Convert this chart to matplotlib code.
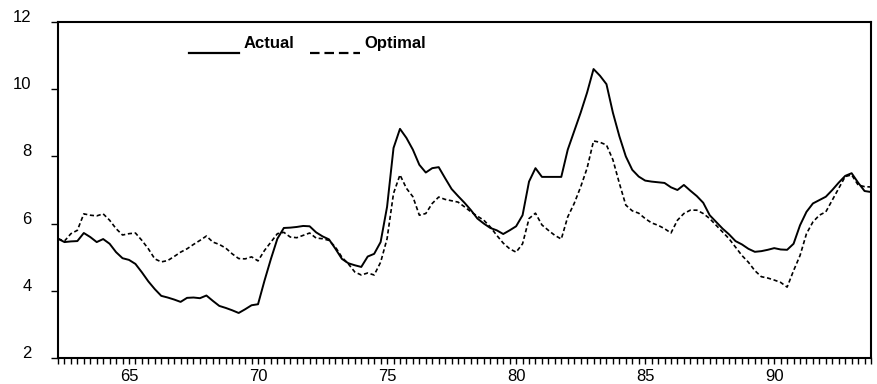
import numpy as np
import matplotlib.pyplot as plt
from matplotlib.lines import Line2D
from matplotlib.legend_handler import HandlerLine2D

plt.rcParams['font.family'] = ['Liberation Sans', 'DejaVu Sans']

# Quartalswerte 1962Q2 .. 1993Q4
start_year = 62.25
actual = [
    5.55, 5.45, 5.47,
    5.48, 5.72, 5.60, 5.45,
    5.54, 5.40, 5.15, 4.97,
    4.92, 4.80, 4.55, 4.28,
    4.05, 3.85, 3.80, 3.74,
    3.67, 3.79, 3.80, 3.78,
    3.86, 3.70, 3.55, 3.49,
    3.42, 3.34, 3.45, 3.57,
    3.60, 4.30, 4.95, 5.55,
    5.87, 5.88, 5.90, 5.93,
    5.92, 5.74, 5.62, 5.53,
    5.25, 4.95, 4.82, 4.76,
    4.71, 5.02, 5.10, 5.45,
    6.50, 8.25, 8.82, 8.55,
    8.20, 7.75, 7.52, 7.65,
    7.68, 7.35, 7.03, 6.82,
    6.62, 6.40, 6.15, 6.00,
    5.87, 5.80, 5.69, 5.80,
    5.92, 6.25, 7.25, 7.65,
    7.39, 7.39, 7.39, 7.39,
    8.20, 8.75, 9.30, 9.90,
    10.60, 10.40, 10.15, 9.30,
    8.60, 8.00, 7.60, 7.40,
    7.28, 7.25, 7.23, 7.21,
    7.08, 7.00, 7.15, 6.98,
    6.82, 6.62, 6.25, 6.05,
    5.85, 5.68, 5.48, 5.38,
    5.25, 5.16, 5.18, 5.22,
    5.27, 5.23, 5.22, 5.40,
    5.95, 6.35, 6.60, 6.70,
    6.80, 7.00, 7.22, 7.42,
    7.50, 7.22, 6.97, 6.94,
]
optimal = [
    5.55, 5.48, 5.70,
    5.80, 6.29, 6.25, 6.23,
    6.29, 6.10, 5.85, 5.66,
    5.70, 5.72, 5.50, 5.25,
    4.95, 4.86, 4.90, 5.02,
    5.15, 5.25, 5.38, 5.50,
    5.63, 5.45, 5.38, 5.27,
    5.10, 4.96, 4.95, 5.01,
    4.89, 5.20, 5.45, 5.70,
    5.74, 5.60, 5.58, 5.65,
    5.72, 5.57, 5.55, 5.50,
    5.30, 5.00, 4.80, 4.56,
    4.47, 4.53, 4.47, 4.85,
    5.55, 6.90, 7.45, 7.05,
    6.80, 6.25, 6.30, 6.60,
    6.79, 6.72, 6.68, 6.64,
    6.50, 6.35, 6.22, 6.10,
    5.90, 5.65, 5.42, 5.25,
    5.15, 5.40, 6.15, 6.31,
    5.96, 5.80, 5.65, 5.54,
    6.20, 6.60, 7.09, 7.65,
    8.46, 8.42, 8.34, 7.90,
    7.20, 6.55, 6.38, 6.31,
    6.15, 6.02, 5.95, 5.85,
    5.72, 6.10, 6.30, 6.40,
    6.40, 6.30, 6.15, 5.95,
    5.75, 5.55, 5.30, 5.05,
    4.85, 4.60, 4.42, 4.38,
    4.32, 4.25, 4.11, 4.60,
    5.05, 5.70, 6.05, 6.25,
    6.35, 6.70, 7.05, 7.40,
    7.45, 7.15, 7.10, 7.09,
]
x_ticks = [65, 70, 75, 80, 85, 90]
y_ticks = [2, 4, 6, 8, 10, 12]
labels = ['Actual', 'Optimal']

t = start_year + 0.25 * np.arange(len(actual))


class BaselineHandler(HandlerLine2D):
    # Legendenlinie knapp unter die Schriftgrundlinie setzen
    def create_artists(self, legend, orig_handle, xdescent, ydescent,
                       width, height, fontsize, trans):
        arts = super().create_artists(legend, orig_handle, xdescent, ydescent,
                                      width, height, fontsize, trans)
        for a in arts:
            if isinstance(a, Line2D):
                a.set_ydata(np.zeros_like(a.get_ydata()) - 0.3 * fontsize)
        return arts


fig = plt.figure(figsize=(8.78, 3.84), dpi=100)
ax = fig.add_axes([58 / 878, 26 / 384, 813 / 878, 336 / 384])

ax.plot(t, actual, color='black', lw=1.4)
ax.plot(t, optimal, color='black', lw=1.2, linestyle=(0, (2.5, 1.6)))

ax.set_xlim(t[0], t[-1])
ax.set_ylim(2, 12)
ax.set_xticks(x_ticks)
ax.set_xticklabels([str(v) for v in x_ticks])
ax.set_xticks(t, minor=True)
ax.set_yticks(y_ticks)
ax.set_yticklabels([str(v) for v in y_ticks])
for lbl in ax.get_yticklabels():
    lbl.set_va('baseline')

ax.tick_params(axis='x', which='both', direction='out', length=4, width=1, pad=4, labelsize=12)
ax.tick_params(axis='y', which='major', direction='out', length=5, width=1, pad=14, labelsize=12)
for sp in ax.spines.values():
    sp.set_linewidth(1.5)

handles = [
    Line2D([], [], color='black', lw=1.6),
    Line2D([], [], color='black', lw=1.6, linestyle=(0, (4.3, 2.2))),
]
ax.legend(handles, labels, loc='upper left', bbox_to_anchor=(0.161, 0.957),
          ncol=2, frameon=False, borderpad=0, borderaxespad=0,
          handlelength=3.0, handletextpad=0.3, columnspacing=0.9,
          prop={'weight': 'bold', 'size': 12},
          handler_map={Line2D: BaselineHandler()})

fig.savefig('out.png', dpi=100)
